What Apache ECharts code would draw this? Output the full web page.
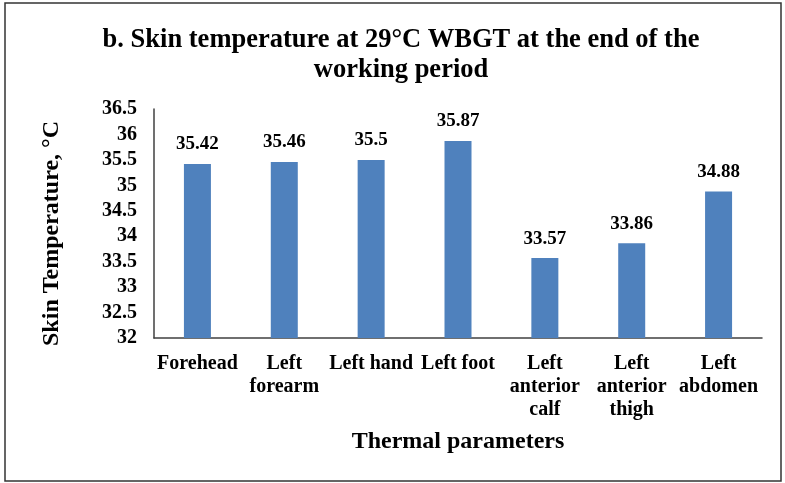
<!DOCTYPE html>
<html>
<head>
<meta charset="utf-8">
<script src="https://cdn.jsdelivr.net/npm/echarts@6/dist/echarts.min.js"></script>
<style>
    html, body { margin: 0; padding: 0; background: #fff; }
    #chart { width: 785px; height: 483px; }
</style>
</head>
<body>
<div id="chart"></div>
<script>
    // data
    const categories = ['Forehead', 'Left\nforearm', 'Left hand', 'Left foot',
        'Left\nanterior\ncalf', 'Left\nanterior\nthigh', 'Left\nabdomen'];
    const skinTemp = [35.42, 35.46, 35.5, 35.87, 33.57, 33.86, 34.88];
    const yMin = 32, yMax = 36.5, yStep = 0.5;

    const serif = "'Liberation Serif', 'Times New Roman', serif";
    const chart = echarts.init(document.getElementById('chart'));

    const option = {
        backgroundColor: '#fff',
        animation: false,
        textStyle: { fontFamily: serif },
        title: {
            text: 'b. Skin temperature at 29°C WBGT at the end of the\nworking period',
            left: 396,
            top: 20,
            textAlign: 'center',
            textStyle: {
                fontFamily: serif,
                fontSize: 26.5,
                fontWeight: 'bold',
                color: '#000',
                lineHeight: 30
            }
        },
        graphic: [{
            type: 'rect',
            shape: { x: 5, y: 3, width: 776, height: 478 },
            style: { fill: 'none', stroke: '#333', lineWidth: 1.5 },
            silent: true
        }],
        grid: { left: 154, right: 23, top: 109, bottom: 145 },
        xAxis: {
            type: 'category',
            data: categories,
            name: 'Thermal parameters',
            nameLocation: 'middle',
            nameGap: 92,
            nameTextStyle: { fontFamily: serif, fontSize: 24, fontWeight: 'bold', color: '#000' },
            axisLine: { lineStyle: { color: '#404040', width: 1.5 } },
            axisTick: { show: false },
            axisLabel: {
                interval: 0,
                margin: 14,
                fontFamily: serif,
                fontSize: 20,
                fontWeight: 'bold',
                color: '#000',
                lineHeight: 23
            }
        },
        yAxis: {
            type: 'value',
            min: yMin,
            max: yMax,
            interval: yStep,
            name: 'Skin Temperature, °C',
            nameLocation: 'middle',
            nameGap: 90,
            nameRotate: 90,
            nameTextStyle: {
                fontFamily: serif, fontSize: 24, fontWeight: 'bold', color: '#000',
                padding: [0, 20, 0, 0]
            },
            axisLine: { show: true, lineStyle: { color: '#404040', width: 1.5 } },
            axisTick: { show: false },
            splitLine: { show: false },
            axisLabel: {
                margin: 17,
                fontFamily: serif,
                fontSize: 20,
                fontWeight: 'bold',
                color: '#000'
            }
        },
        series: [{
            type: 'bar',
            data: skinTemp,
            barWidth: 27,
            itemStyle: { color: '#4F81BD' },
            label: {
                show: true,
                position: 'top',
                distance: 10,
                fontFamily: serif,
                fontSize: 19,
                fontWeight: 'bold',
                color: '#000'
            }
        }]
    };

    chart.setOption(option);
</script>
</body>
</html>
